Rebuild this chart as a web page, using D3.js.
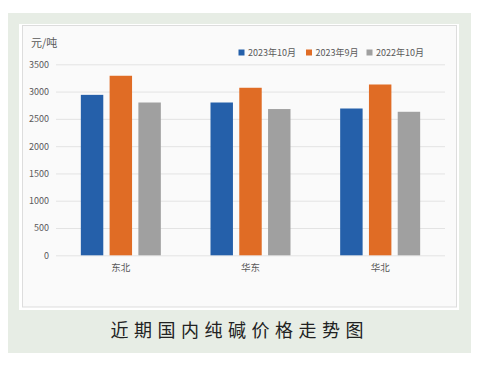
<!DOCTYPE html>
<html><head><meta charset="utf-8">
<script src="https://cdn.jsdelivr.net/npm/d3@7/dist/d3.min.js"></script>
<style>body{margin:0;background:#fff}svg{display:block}</style>
</head><body>
<svg id="c" width="485" height="371"></svg>
<script>
const categories = ["东北", "华东", "华北"];
const seriesNames = ["2023年10月", "2023年9月", "2022年10月"];
const oct2023 = [2940, 2800, 2690];
const sep2023 = [3290, 3070, 3130];
const oct2022 = [2800, 2680, 2630];
const yTicks = [0, 500, 1000, 1500, 2000, 2500, 3000, 3500];
const colors = ["#2560aa", "#e06c25", "#a0a0a0"];
const unitLabel = "元/吨";
const title = "近期国内纯碱价格走势图";

const series = [oct2023, sep2023, oct2022];
const svg = d3.select("#c");
const font = "'Noto Sans CJK SC','Noto Sans',sans-serif";

svg.append("rect").attr("x", 8).attr("y", 13).attr("width", 463).attr("height", 340).attr("fill", "#e7ede5");
svg.append("rect").attr("x", 19).attr("y", 24).attr("width", 440).attr("height", 286).attr("fill", "#ffffff");
svg.append("rect").attr("x", 22.5).attr("y", 25.5).attr("width", 434).attr("height", 281.5).attr("fill", "#fafafa").attr("stroke", "#dddddd").attr("stroke-width", 1);

const x0 = d3.scaleBand().domain(categories).range([56, 445]).paddingInner(0).paddingOuter(0);
const x1 = d3.scaleBand().domain(d3.range(3)).range([x0.bandwidth()/2 - 40, x0.bandwidth()/2 + 40]).paddingInner(0.22).paddingOuter(0);
const y = d3.scaleLinear().domain([0, 3500]).range([255.3, 64.3]);

// grid
const yAxis = d3.axisLeft(y).tickValues(yTicks).tickSize(-(445 - 56)).tickPadding(7).tickFormat(d3.format("d"));
const gy = svg.append("g").attr("transform", "translate(56,0)").call(yAxis);
gy.select(".domain").remove();
gy.selectAll(".tick line").attr("stroke", "#e3e3e3").attr("stroke-width", 1);
gy.selectAll(".tick text").attr("fill", "#595959").attr("font-size", 9).attr("font-family", font);

// bars
categories.forEach((c, ci) => {
  series.forEach((s, si) => {
    svg.append("rect")
      .attr("x", x0(c) + x1(si))
      .attr("y", y(s[ci]))
      .attr("width", x1.bandwidth())
      .attr("height", y(0) - y(s[ci]))
      .attr("fill", colors[si]);
  });
});

// x axis labels
const xAxis = d3.axisBottom(x0).tickSize(0).tickPadding(9);
const gx = svg.append("g").attr("transform", "translate(0,255.3)").call(xAxis);
gx.select(".domain").remove();
gx.selectAll(".tick text").attr("fill", "#595959").attr("font-size", 9.5).attr("font-family", font);

// unit
svg.append("text").attr("x", 31).attr("y", 47).text(unitLabel)
  .attr("fill", "#595959").attr("font-size", 11).attr("font-family", font);

// legend
const legX = [238.5, 306, 366.5];
seriesNames.forEach((n, i) => {
  svg.append("rect").attr("x", legX[i]).attr("y", 49.5).attr("width", 6).attr("height", 6).attr("fill", colors[i]);
  svg.append("text").attr("x", legX[i] + 9.5).attr("y", 56).text(n)
    .attr("fill", "#595959").attr("font-size", 9).attr("font-family", font);
});

// title
svg.append("text").attr("x", 110.5).attr("y", 336.5).attr("text-anchor", "start").text(title)
  .attr("fill", "#222222").attr("font-size", 18).attr("letter-spacing", 5.5).attr("font-weight", 400).attr("font-family", font);
</script>
</body></html>
